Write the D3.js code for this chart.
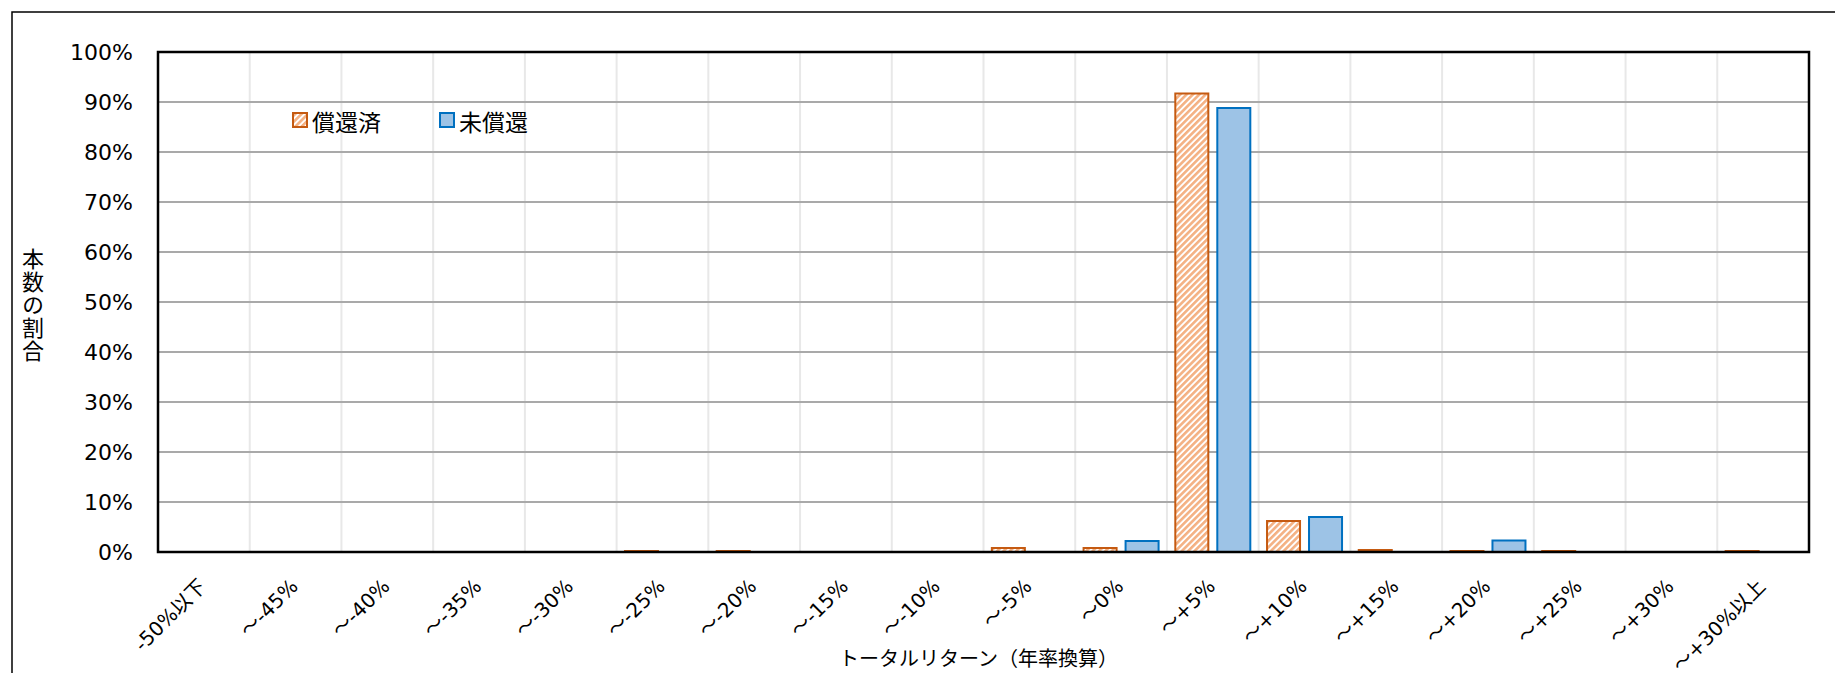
<!DOCTYPE html>
<html>
<head>
<meta charset="utf-8">
<script src="https://cdn.jsdelivr.net/npm/d3@7"></script>
<style>
  html, body { margin: 0; padding: 0; background: #fff; }
  svg { display: block; }
  text { font-family: "DejaVu Sans", "Noto Sans CJK JP", sans-serif; fill: #000; }
  .jp { font-family: "Noto Sans CJK JP", sans-serif; }
</style>
</head>
<body>
<svg id="chart" width="1835" height="673"></svg>
<script>
const categories = ["-50%以下","～-45%","～-40%","～-35%","～-30%","～-25%","～-20%","～-15%","～-10%","～-5%","～0%","～+5%","～+10%","～+15%","～+20%","～+25%","～+30%","～+30%以上"];
const seriesNames = ["償還済", "未償還"];
const redeemed    = [0,0,0,0,0,0.2,0.2,0,0,0.8,0.8,91.7,6.2,0.4,0.2,0.2,0,0.2];
const outstanding = [0,0,0,0,0,0,0,0,0,0,2.2,88.8,7.0,0,2.3,0,0,0];
const yTicks = [0,10,20,30,40,50,60,70,80,90,100];
const yTitle = "本数の割合";
const xTitle = "トータルリターン（年率換算）";

const svg = d3.select("#chart");
const W = 1835, H = 673;
const m = { left: 158, right: 1809, top: 52, bottom: 552 };

// outer frame (extends beyond the visible page on right/bottom)
svg.append("rect").attr("x", 12).attr("y", 12).attr("width", W + 20).attr("height", H + 20)
  .attr("fill", "#fff").attr("stroke", "#000").attr("stroke-width", 1.5);

// hatch pattern
const defs = svg.append("defs");
const pat = defs.append("pattern").attr("id", "hatch").attr("patternUnits", "userSpaceOnUse")
  .attr("width", 4.5).attr("height", 4.5).attr("patternTransform", "rotate(45)");
pat.append("rect").attr("width", 4.5).attr("height", 4.5).attr("fill", "#fff");
pat.append("rect").attr("width", 2.6).attr("height", 4.5).attr("fill", "#f4b183");

const x = d3.scaleBand().domain(categories).range([m.left, m.right]).paddingInner(0).paddingOuter(0);
const xs = d3.scaleBand().domain(seriesNames).range([0, x.bandwidth()]).paddingInner(0.214).paddingOuter(0.199);
const y = d3.scaleLinear().domain([0, 100]).range([m.bottom, m.top]);

// vertical light gridlines at category boundaries
svg.append("g").selectAll("line").data(categories.slice(1)).join("line")
  .attr("x1", d => x(d)).attr("x2", d => x(d))
  .attr("y1", m.top).attr("y2", m.bottom)
  .attr("stroke", "#e8e8e8").attr("stroke-width", 2);

// horizontal gridlines
svg.append("g").selectAll("line").data(yTicks.filter(t => t > 0 && t < 100)).join("line")
  .attr("x1", m.left).attr("x2", m.right)
  .attr("y1", d => y(d)).attr("y2", d => y(d))
  .attr("stroke", "#a9a9a9").attr("stroke-width", 2);

// bars
const data = categories.map((c, i) => ({ c, vals: [
  { s: seriesNames[0], v: redeemed[i] },
  { s: seriesNames[1], v: outstanding[i] }
]}));
const styles = {
  "償還済": { fill: "url(#hatch)", stroke: "#c55a11" },
  "未償還": { fill: "#9dc3e6", stroke: "#0070c0" }
};
const g = svg.append("g");
data.forEach(d => {
  d.vals.filter(o => o.v > 0).forEach(o => {
    g.append("rect")
      .attr("x", x(d.c) + xs(o.s))
      .attr("y", y(o.v))
      .attr("width", xs.bandwidth())
      .attr("height", y(0) - y(o.v))
      .attr("fill", styles[o.s].fill)
      .attr("stroke", styles[o.s].stroke)
      .attr("stroke-width", 2);
  });
});

// plot border
svg.append("rect").attr("x", m.left).attr("y", m.top)
  .attr("width", m.right - m.left).attr("height", m.bottom - m.top)
  .attr("fill", "none").attr("stroke", "#000").attr("stroke-width", 2.5);

// y axis labels
const yAxis = d3.axisLeft(y).tickValues(yTicks).tickFormat(d => d + "%").tickSize(0).tickPadding(25);
const ya = svg.append("g").attr("transform", `translate(${m.left},0)`).call(yAxis);
ya.select(".domain").remove();
ya.selectAll("text").attr("font-size", 22).attr("fill", "#000")
  .style("font-family", "'DejaVu Sans', 'Noto Sans CJK JP', sans-serif");

// x category labels (rotated)
svg.append("g").selectAll("text").data(categories).join("text")
  .attr("transform", d => `translate(${x(d) + x.bandwidth() / 2 - 7},577) rotate(-45)`)
  .attr("text-anchor", "end")
  .attr("dy", "0.75em")
  .attr("font-size", 20)
  .text(d => d);

// y title (vertical writing)
svg.append("text")
  .attr("class", "jp")
  .attr("x", 33)
  .attr("y", 305)
  .attr("text-anchor", "middle")
  .attr("font-size", 22)
  .style("writing-mode", "vertical-rl")
  .style("text-orientation", "upright")
  .style("letter-spacing", "1px")
  .text(yTitle);

// x title
svg.append("text").attr("class", "jp")
  .attr("x", (m.left + m.right) / 2 - 5).attr("y", 657)
  .attr("text-anchor", "middle").attr("dominant-baseline", "central")
  .attr("font-size", 20)
  .text(xTitle);

// legend
const lg = svg.append("g");
const legendX = [293, 440];
seriesNames.forEach((s, i) => {
  lg.append("rect").attr("x", legendX[i]).attr("y", 113).attr("width", 14).attr("height", 14)
    .attr("fill", styles[s].fill).attr("stroke", styles[s].stroke).attr("stroke-width", 2);
  lg.append("text").attr("class", "jp").attr("x", legendX[i] + 19).attr("y", 121)
    .attr("dominant-baseline", "central").attr("font-size", 23).text(s);
});
</script>
</body>
</html>
